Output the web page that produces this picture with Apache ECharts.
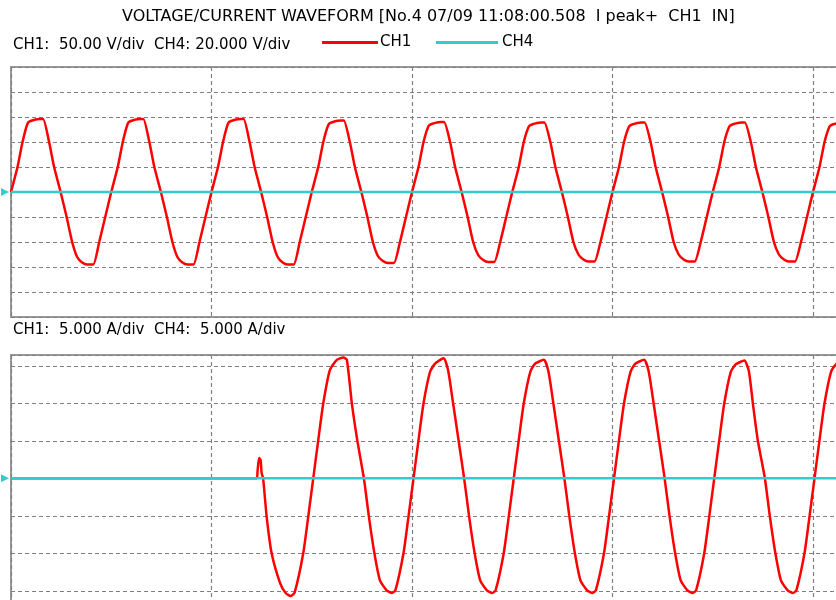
<!DOCTYPE html>
<html>
<head>
<meta charset="utf-8">
<script src="https://cdn.jsdelivr.net/npm/echarts@6/dist/echarts.min.js"></script>
<style>
  html, body { margin: 0; padding: 0; background: #ffffff; }
  #chart { width: 836px; height: 600px; }
</style>
</head>
<body>
<div id="chart"></div>
<script>
// ---- texts ----
const titleText = 'VOLTAGE/CURRENT WAVEFORM [No.4 07/09 11:08:00.508  I peak+  CH1  IN]';
const voltScaleText = 'CH1:  50.00 V/div  CH4: 20.000 V/div';
const currScaleText = 'CH1:  5.000 A/div  CH4:  5.000 A/div';
const seriesNames = ['CH1', 'CH4'];

// ---- axes (time in ms, voltage in V, current in A) ----
const timeMin = 0, timeMax = 200, timeDiv = 40;
const voltMin = -250, voltMax = 250, voltDiv = 50;
const currMin = -20, currMax = 16.44, currDiv = 5;

// ---- CH1 voltage [ms, V] ----
const ch1Voltage = [
  [0,0],[1.3,50],[2.3,100],[3.3,137],[3.9,142],[5.7,146],[6.4,146],[7.6,100],[8.6,50],[9.9,0],[11.1,-50],[12.2,-100],[13.2,-130],[14.2,-141],[15.2,-145],[16.4,-145],[17.6,-100],[18.8,-50],
  [20,0],[21.3,50],[22.3,100],[23.3,137],[23.9,142],[25.7,146],[26.4,146],[27.6,100],[28.6,50],[29.9,0],[31.1,-50],[32.2,-100],[33.2,-130],[34.2,-141],[35.2,-145],[36.4,-145],[37.6,-100],[38.8,-50],
  [40,0],[41.3,50],[42.3,100],[43.3,137],[43.9,142],[45.7,146],[46.4,146],[47.6,100],[48.6,50],[49.9,0],[51.1,-50],[52.2,-100],[53.2,-130],[54.2,-141],[55.2,-145],[56.4,-145],[57.6,-100],[58.8,-50],
  [60,0],[61.3,50],[62.3,100],[63.3,134],[63.9,139],[65.7,143],[66.4,143],[67.6,100],[68.6,50],[69.9,0],[71.1,-50],[72.2,-100],[73.2,-128],[74.2,-138],[75.2,-142],[76.4,-142],[77.6,-100],[78.8,-50],
  [80,0],[81.3,50],[82.3,100],[83.3,132],[83.9,136],[85.7,140],[86.4,140],[87.6,100],[88.6,50],[89.9,0],[91.1,-50],[92.2,-100],[93.2,-126],[94.2,-136],[95.2,-140],[96.4,-140],[97.6,-100],[98.8,-50],
  [100,0],[101.3,50],[102.3,100],[103.3,131],[103.9,135],[105.7,139],[106.4,139],[107.6,100],[108.6,50],[109.9,0],[111.1,-50],[112.2,-100],[113.2,-125],[114.2,-135],[115.2,-139],[116.4,-139],[117.6,-100],[118.8,-50],
  [120,0],[121.3,50],[122.3,100],[123.3,131],[123.9,135],[125.7,139],[126.4,139],[127.6,100],[128.6,50],[129.9,0],[131.1,-50],[132.2,-100],[133.2,-125],[134.2,-135],[135.2,-139],[136.4,-139],[137.6,-100],[138.8,-50],
  [140,0],[141.3,50],[142.3,100],[143.3,131],[143.9,135],[145.7,139],[146.4,139],[147.6,100],[148.6,50],[149.9,0],[151.1,-50],[152.2,-100],[153.2,-125],[154.2,-135],[155.2,-139],[156.4,-139],[157.6,-100],[158.8,-50],
  [160,0],[161.3,50],[162.3,100],[163.3,131],[163.9,135],[165.7,139],[166.4,139],[167.6,100],[168.6,50],[169.9,0],[171.1,-50],[172.2,-100],[173.2,-125],[174.2,-135],[175.2,-139],[176.4,-139],[177.6,-100],[178.8,-50],
  [180,0]
];
// ---- CH4 voltage [ms, V] ----
const ch4Voltage = [[0,0],[200,0]];

// ---- CH1 current [ms, A] ----
const ch1Current = [
  [0,0],[49.0,0],[49.2,1.1],[49.5,2.7],[49.8,2.4],[50.0,0.7],[50.3,0],
  [51.0,-5.1],[52.0,-10],[53.7,-14],[54.8,-15.3],[55.8,-15.7],[56.6,-15.2],[58.3,-10],[59.3,-5.1],
  [60.3,0],[61.3,5.1],[62.3,10],[63.6,14.4],[65.0,15.8],[66.3,16.1],[67.0,15.8],[68.0,10],[69.1,5],
  [70.4,0],[71.4,-5.1],[72.5,-10],[73.6,-13.6],[74.9,-14.9],[76.0,-15.3],[76.7,-14.9],[78.3,-10],[79.3,-5.1],
  [80.3,0],[81.3,5.1],[82.3,10],[83.6,14.2],[84.6,15.3],[86.3,16.0],[87.2,14.4],[88.2,10],[89.3,5],
  [90.4,0],[91.4,-5.1],[92.5,-10],[93.6,-13.6],[94.9,-14.9],[96.0,-15.3],[96.7,-14.9],[98.3,-10],[99.3,-5.1],
  [100.3,0],[101.3,5.1],[102.3,10],[103.6,14.2],[104.6,15.3],[106.3,15.8],[107.2,14.3],[108.2,10],[109.3,5],
  [110.4,0],[111.4,-5.1],[112.5,-10],[113.6,-13.6],[114.9,-14.9],[116.0,-15.3],[116.7,-14.9],[118.3,-10],[119.3,-5.1],
  [120.3,0],[121.3,5.1],[122.3,10],[123.6,14.2],[124.6,15.3],[126.3,15.8],[127.2,14.3],[128.2,10],[129.3,5],
  [130.4,0],[131.4,-5.1],[132.5,-10],[133.6,-13.6],[134.9,-14.9],[136.0,-15.3],[136.7,-14.9],[138.3,-10],[139.3,-5.1],
  [140.3,0],[141.3,5.1],[142.3,10],[143.6,14.2],[144.6,15.2],[146.3,15.7],[147.2,14.3],[148.0,10],[149.0,5],
  [150.4,0],[151.4,-5.1],[152.5,-10],[153.6,-13.6],[154.9,-14.9],[156.0,-15.3],[156.7,-14.9],[158.3,-10],[159.3,-5.1],
  [160.3,0],[161.3,5.1],[162.3,10],[163.6,14.2],[164.6,15.2],[166.3,15.6],[167.2,14.3],[168.2,10],[169.3,5],
  [170.4,0]
];
// ---- CH4 current [ms, A] ----
const ch4Current = [[0,0],[200,0]];

const RED = '#ff0000';
const CYAN = '#33cccc';
const GRID_LINE = { show: true, lineStyle: { color: '#808080', width: 1.2, type: [4, 3] } };
const FONT = 'DejaVu Sans';

function xAxisFor(gridIndex) {
  return {
    type: 'value', gridIndex, min: timeMin, max: timeMax, interval: timeDiv,
    axisLine: { show: false }, axisTick: { show: false }, axisLabel: { show: false },
    splitLine: GRID_LINE
  };
}
function yAxisFor(gridIndex, min, max, interval) {
  return {
    type: 'value', gridIndex, min, max, interval,
    axisLine: { show: false }, axisTick: { show: false }, axisLabel: { show: false },
    splitLine: GRID_LINE
  };
}
const zeroMarker = {
  symbol: 'triangle', symbolSize: [8, 8], symbolRotate: -90, symbolOffset: [-6, 0],
  itemStyle: { color: CYAN }, label: { show: false }, silent: true
};
const textStyle = { fontFamily: FONT, fontSize: 15, fontWeight: 'normal', color: '#000' };
const legendText = { fontFamily: FONT, fontSize: 15, color: '#000' };

const chart = echarts.init(document.getElementById('chart'), null, { renderer: 'canvas' });
chart.setOption({
  backgroundColor: '#ffffff',
  animation: false,
  textStyle: { fontFamily: FONT },
  title: [
    { text: titleText, left: 117, top: 4, textStyle: Object.assign({}, textStyle, { fontSize: 16 }) },
    { text: voltScaleText, left: 8, top: 33, textStyle },
    { text: currScaleText, left: 8, top: 318, textStyle }
  ],
  legend: [
    { data: [seriesNames[0]], left: 317, top: 30, icon: 'rect', itemWidth: 56, itemHeight: 3,
      textStyle: Object.assign({}, legendText, { padding: [0, 0, 0, -3] }) },
    { data: [seriesNames[1]], left: 431, top: 30, icon: 'rect', itemWidth: 62, itemHeight: 3,
      textStyle: Object.assign({}, legendText, { padding: [0, 0, 0, -1] }) }
  ],
  grid: [
    { left: 11, top: 67, width: 1002.5, height: 250, outerBoundsMode: 'none', containLabel: false, show: true, borderColor: '#999999', borderWidth: 2, backgroundColor: 'transparent' },
    { left: 11, top: 355, width: 1002.5, height: 273.3, outerBoundsMode: 'none', containLabel: false, show: true, borderColor: '#999999', borderWidth: 2, backgroundColor: 'transparent' }
  ],
  xAxis: [xAxisFor(0), xAxisFor(1)],
  yAxis: [yAxisFor(0, voltMin, voltMax, voltDiv), yAxisFor(1, currMin, currMax, currDiv)],
  series: [
    { name: 'CH1', type: 'line', xAxisIndex: 0, yAxisIndex: 0, data: ch1Voltage, showSymbol: false, smooth: 0.2, lineStyle: { color: RED, width: 2.5 }, itemStyle: { color: RED }, z: 3 },
    { name: 'CH4', type: 'line', xAxisIndex: 0, yAxisIndex: 0, data: ch4Voltage, showSymbol: false, lineStyle: { color: CYAN, width: 2.5 }, itemStyle: { color: CYAN }, z: 4,
      markPoint: Object.assign({ data: [{ coord: [timeMin, 0] }] }, zeroMarker) },
    { name: 'CH1', type: 'line', xAxisIndex: 1, yAxisIndex: 1, data: ch1Current, showSymbol: false, smooth: 0.2, lineStyle: { color: RED, width: 2.5 }, itemStyle: { color: RED }, z: 3 },
    { name: 'CH4', type: 'line', xAxisIndex: 1, yAxisIndex: 1, data: ch4Current, showSymbol: false, lineStyle: { color: CYAN, width: 2.5 }, itemStyle: { color: CYAN }, z: 4,
      markPoint: Object.assign({ data: [{ coord: [timeMin, 0] }] }, zeroMarker) }
  ]
});
</script>
</body>
</html>
